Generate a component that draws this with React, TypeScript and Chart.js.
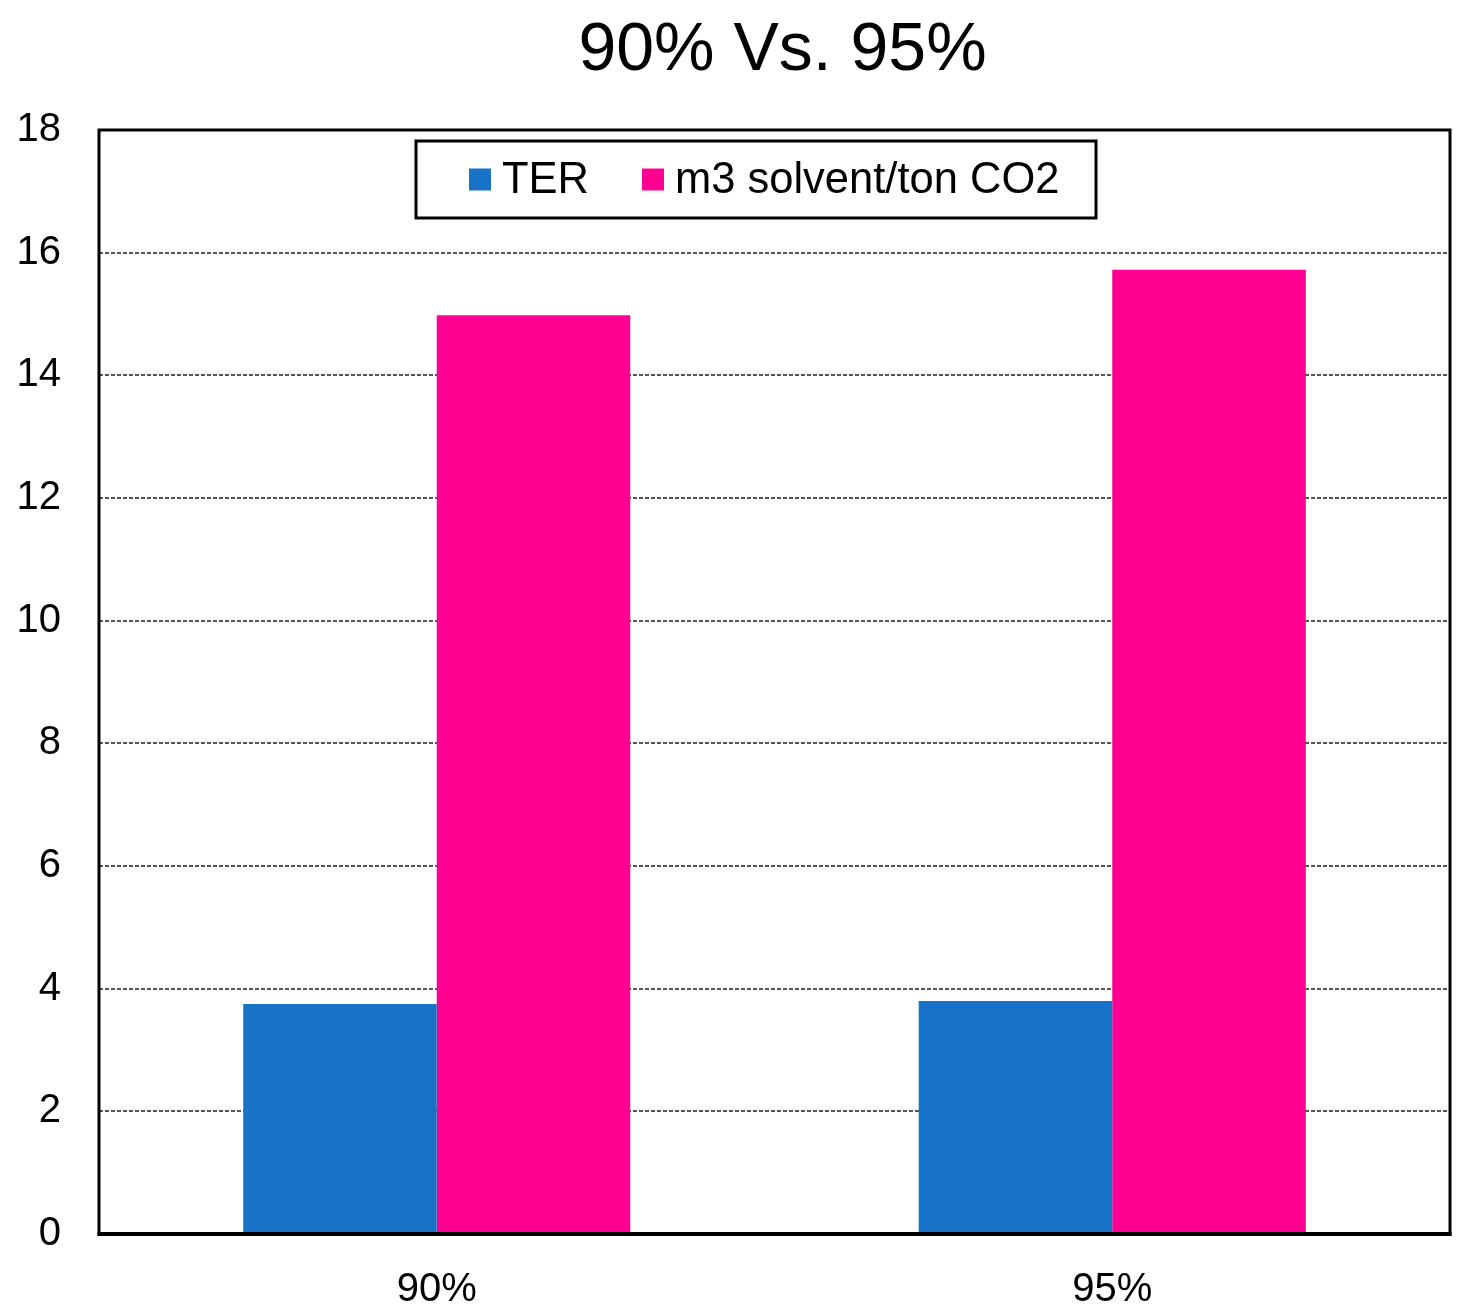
import { useEffect, useRef } from "react";
import { Chart, registerables } from "chart.js";
import type { Plugin } from "chart.js";

Chart.register(...registerables);

const chartTitle = "90% Vs. 95%";
const categories = ["90%", "95%"];
const seriesLabels = ["TER", "m3 solvent/ton CO2"];
const terValues = [3.75, 3.8];
const solventValues = [14.98, 15.72];
const seriesColors = ["#1873C8", "#FF0092"];
const yMin = 0;
const yMax = 18;
const yStep = 2;

const FONT = "'Liberation Sans', Arial, sans-serif";

// title, plot frame and the boxed legend inside the plot area
const decorations: Plugin<"bar"> = {
  id: "decorations",
  afterDraw(chart) {
    const { ctx, chartArea: a } = chart;
    ctx.save();

    ctx.fillStyle = "#000";
    ctx.font = `68px ${FONT}`;
    ctx.textAlign = "center";
    ctx.textBaseline = "alphabetic";
    ctx.fillText(chartTitle, (a.left + a.right) / 2 + 8, 70);

    ctx.strokeStyle = "#000";
    ctx.lineWidth = 3;
    ctx.strokeRect(a.left, a.top, a.right - a.left, a.bottom - a.top);
    ctx.lineWidth = 4;
    ctx.beginPath();
    ctx.moveTo(a.left - 1.5, a.bottom);
    ctx.lineTo(a.right + 1.5, a.bottom);
    ctx.stroke();

    const boxX = a.left + 317;
    const boxY = a.top + 11;
    const boxW = 680;
    const boxH = 77;
    ctx.fillStyle = "#fff";
    ctx.fillRect(boxX, boxY, boxW, boxH);
    ctx.lineWidth = 3;
    ctx.strokeRect(boxX, boxY, boxW, boxH);

    ctx.font = `43.5px ${FONT}`;
    ctx.textAlign = "left";
    const midY = boxY + boxH / 2;
    let x = boxX + 53;
    chart.data.datasets.forEach((ds) => {
      ctx.fillStyle = ds.backgroundColor as string;
      ctx.fillRect(x, midY - 11, 22, 22);
      x += 33;
      ctx.fillStyle = "#000";
      const label = ds.label ?? "";
      ctx.fillText(label, x, midY + 13);
      x += ctx.measureText(label).width + 53;
    });

    ctx.restore();
  },
};

export default function App() {
  const canvasRef = useRef<HTMLCanvasElement>(null);

  useEffect(() => {
    document.body.style.margin = "0";
    if (!canvasRef.current) return;

    const chart = new Chart(canvasRef.current, {
      type: "bar",
      data: {
        labels: categories,
        datasets: [
          {
            label: seriesLabels[0],
            data: terValues,
            backgroundColor: seriesColors[0],
          },
          {
            label: seriesLabels[1],
            data: solventValues,
            backgroundColor: seriesColors[1],
          },
        ],
      },
      options: {
        responsive: false,
        animation: false,
        devicePixelRatio: 1,
        layout: { padding: { top: 130, right: 20, left: 0, bottom: 0 } },
        datasets: {
          bar: { categoryPercentage: 0.573, barPercentage: 1 },
        },
        plugins: {
          legend: { display: false },
          title: { display: false },
          tooltip: { enabled: false },
        },
        scales: {
          x: {
            grid: { display: false },
            border: { display: false },
            ticks: {
              color: "#000",
              padding: 24,
              font: { family: FONT, size: 40 },
            },
            afterFit: (scale) => {
              scale.height = 79;
            },
          },
          y: {
            min: yMin,
            max: yMax,
            grid: {
              color: "#555555",
              lineWidth: 2,
              drawTicks: false,
            },
            border: { display: false, dash: [4, 2] },
            ticks: {
              stepSize: yStep,
              color: "#000",
              padding: 38,
              font: { family: FONT, size: 40 },
            },
            afterFit: (scale) => {
              scale.width = 99;
            },
          },
        },
      },
      plugins: [decorations],
    });

    return () => chart.destroy();
  }, []);

  return (
    <div style={{ width: 1470, height: 1313, background: "#fff" }}>
      <canvas ref={canvasRef} width={1470} height={1313} />
    </div>
  );
}
